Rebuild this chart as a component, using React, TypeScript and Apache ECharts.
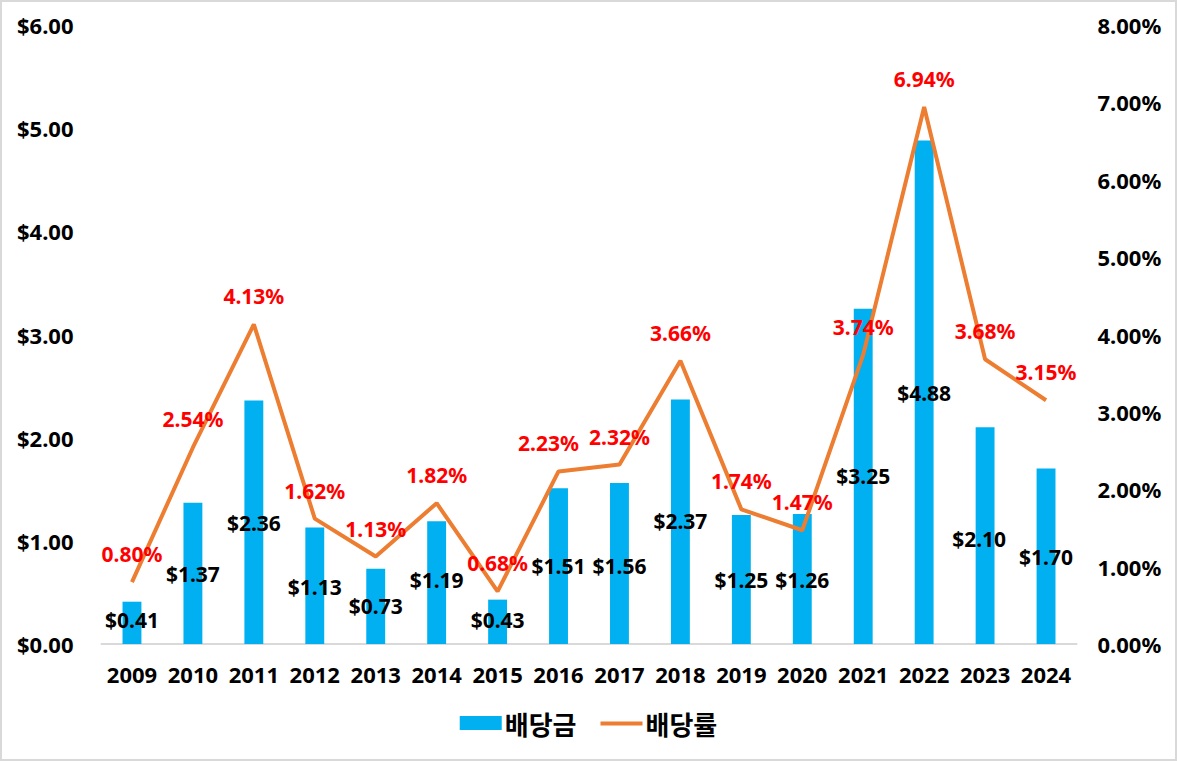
import React, { useEffect, useRef } from "react";
import * as echarts from "echarts";

const years = ["2009","2010","2011","2012","2013","2014","2015","2016","2017","2018","2019","2020","2021","2022","2023","2024"];
const dividends = [0.41,1.37,2.36,1.13,0.73,1.19,0.43,1.51,1.56,2.37,1.25,1.26,3.25,4.88,2.10,1.70];
const yields = [0.80,2.54,4.13,1.62,1.13,1.82,0.68,2.23,2.32,3.66,1.74,1.47,3.74,6.94,3.68,3.15];
const leftTicks = { min: 0, max: 6, interval: 1 };
const rightTicks = { min: 0, max: 8, interval: 1 };

// label placement (pixels below bar top, horizontal shift) — styling only
const barLabelDy = [18,71,122,60,37,59,20,78,83,122,65,66,167,252,112,88];
const barLabelDx = [0,0,0,0,0,0,0,0,0,0,0,0,0,0,-6,0];
const lineLabelDx = [0,0,0,0,0,0,0,-10,0,0,0,0,0,0,0,0];

const FONT = "'Noto Sans', 'Noto Sans CJK KR', sans-serif";
const LINE_ICON = "path://M0,0L0.01,0L0.01,0.01Z M0,5.5L42,5.5L42,9.5L0,9.5Z M0,14L0.01,14L0.01,13.99Z";

export default function App() {
  const ref = useRef<HTMLDivElement>(null);
  useEffect(() => {
    const chart = echarts.init(ref.current!, null, { renderer: "svg" });
    chart.setOption({
      animation: false,
      backgroundColor: "#fff",
      textStyle: { fontFamily: FONT },
      graphic: [
        {
          type: "rect",
          shape: { x: 1, y: 1, width: 1175, height: 759 },
          style: { fill: "none", stroke: "#d9d9d9", lineWidth: 2 },
          silent: true,
        },
      ],
      legend: {
        bottom: 20,
        left: "center",
        itemGap: 24,
        itemWidth: 42,
        itemHeight: 14,
        textStyle: { fontFamily: "'Noto Sans CJK KR', sans-serif", fontWeight: "bold", fontSize: 26, color: "#000", padding: [0, 0, 0, -2] },
        data: [
          { name: "배당금", icon: "rect" },
          { name: "배당률", icon: LINE_ICON, itemStyle: { color: "#ED7D31", opacity: 1 } },
        ],
      },
      grid: { left: 101.5, right: 100.5, top: 25, bottom: 117, containLabel: false },
      xAxis: {
        type: "category",
        data: years,
        boundaryGap: true,
        axisLine: { lineStyle: { color: "#d9d9d9", width: 2 } },
        axisTick: { show: false },
        axisLabel: { interval: 0, color: "#000", fontWeight: "bold", fontSize: 22, margin: 19, fontFamily: FONT },
      },
      yAxis: [
        {
          type: "value",
          ...leftTicks,
          splitLine: { show: false },
          axisLine: { show: false },
          axisLabel: {
            color: "#000", fontWeight: "bold", fontSize: 22, margin: 28, fontFamily: FONT,
            formatter: (v: number) => "$" + v.toFixed(2),
          },
        },
        {
          type: "value",
          ...rightTicks,
          splitLine: { show: false },
          axisLine: { show: false },
          axisLabel: {
            color: "#000", fontWeight: "bold", fontSize: 22, margin: 21, fontFamily: FONT,
            formatter: (v: number) => v.toFixed(2) + "%",
          },
        },
      ],
      series: [
        {
          name: "배당금",
          type: "bar",
          yAxisIndex: 0,
          barWidth: "31%",
          itemStyle: { color: "#00B0F0" },
          data: dividends.map((v, i) => ({
            value: v,
            label: {
              show: true,
              position: ["50%", barLabelDy[i]],
              align: "center",
              verticalAlign: "middle",
              offset: [barLabelDx[i], 0],
              formatter: "$" + v.toFixed(2),
              color: "#000",
              fontSize: 21,
              fontWeight: "bold",
              fontFamily: FONT,
            },
          })),
          z: 2,
        },
        {
          name: "배당률",
          type: "line",
          yAxisIndex: 1,
          symbol: "circle",
          symbolSize: 1,
          showSymbol: true,
          lineStyle: { color: "#ED7D31", width: 4 },
          itemStyle: { color: "rgba(0,0,0,0)", borderWidth: 0 },
          data: yields.map((v, i) => ({
            value: v,
            label: {
              show: true,
              position: "top",
              distance: 17,
              offset: [lineLabelDx[i], 0],
              formatter: v.toFixed(2) + "%",
              color: "#FF0000",
              fontSize: 21,
              fontWeight: "bold",
              fontFamily: FONT,
            },
          })),
          z: 3,
        },
      ],
    });
    return () => chart.dispose();
  }, []);
  return (
    <div
      ref={ref}
      style={{ position: "fixed", left: 0, top: 0, width: 1177, height: 761 }}
    />
  );
}
